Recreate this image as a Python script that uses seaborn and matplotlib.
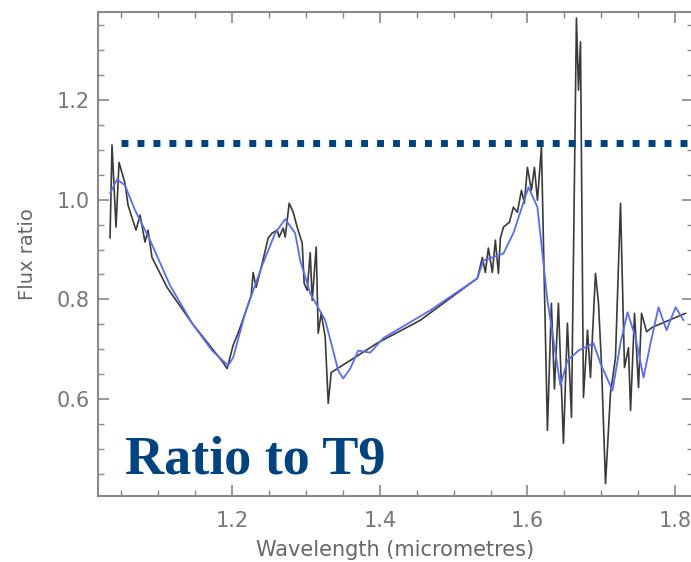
import matplotlib
matplotlib.use("Agg")
import matplotlib.pyplot as plt
import seaborn as sns
import numpy as np
from matplotlib.ticker import MultipleLocator

# observed flux ratio (black, noisy)
obs_wave = [1.0346, 1.0373, 1.0427, 1.0468, 1.0549, 1.0590, 1.0698, 1.0753, 1.0820, 1.0861,
            1.0915, 1.1119, 1.1458, 1.1878, 1.1932, 1.2014, 1.2081, 1.2176, 1.2258, 1.2285,
            1.2325, 1.2407, 1.2488, 1.2542, 1.2610, 1.2637, 1.2692, 1.2719, 1.2773, 1.2827,
            1.2881, 1.2949, 1.2976, 1.3017, 1.3058, 1.3085, 1.3139, 1.3166, 1.3207, 1.3261,
            1.3302, 1.3342, 1.3966, 1.4549, 1.5227, 1.5322, 1.5390, 1.5430, 1.5471, 1.5525,
            1.5566, 1.5607, 1.5634, 1.5675, 1.5756, 1.5810, 1.5864, 1.5919, 1.5959, 1.6000,
            1.6054, 1.6095, 1.6136, 1.6190, 1.6271, 1.6325, 1.6366, 1.6420, 1.6488, 1.6542,
            1.6597, 1.6664, 1.6692, 1.6719, 1.6759, 1.6814, 1.6854, 1.6922, 1.6963, 1.7003,
            1.7058, 1.7125, 1.7193, 1.7261, 1.7315, 1.7369, 1.7397, 1.7451, 1.7505, 1.7546,
            1.7614, 1.7695, 1.8142]
obs_ratio = [0.923, 1.110, 0.945, 1.075, 1.033, 0.989, 0.939, 0.969, 0.915, 0.939,
             0.884, 0.824, 0.752, 0.673, 0.661, 0.708, 0.732, 0.772, 0.808, 0.854,
             0.824, 0.872, 0.923, 0.933, 0.939, 0.925, 0.943, 0.925, 0.993, 0.975,
             0.945, 0.913, 0.832, 0.818, 0.894, 0.798, 0.905, 0.732, 0.772, 0.724,
             0.591, 0.653, 0.712, 0.758, 0.832, 0.842, 0.884, 0.854, 0.903, 0.854,
             0.919, 0.852, 0.923, 0.945, 0.955, 0.985, 0.975, 1.019, 0.993, 1.065,
             1.019, 1.065, 0.999, 1.106, 0.537, 0.792, 0.620, 0.792, 0.511, 0.752,
             0.563, 1.365, 1.220, 1.317, 0.603, 0.738, 0.643, 0.852, 0.792, 0.671,
             0.430, 0.611, 0.683, 0.993, 0.663, 0.703, 0.577, 0.772, 0.623, 0.772,
             0.735, 0.744, 0.772]

# smoothed model (blue)
mod_wave = [1.0346, 1.0441, 1.0549, 1.0685, 1.0888, 1.1159, 1.1458, 1.1729, 1.1946, 1.2014,
            1.2176, 1.2407, 1.2583, 1.2719, 1.2854, 1.2922, 1.3058, 1.3261, 1.3356, 1.3437,
            1.3505, 1.3600, 1.3708, 1.3871, 1.4047, 1.4685, 1.5322, 1.5403, 1.5675, 1.5810,
            1.6014, 1.6136, 1.6271, 1.6447, 1.6542, 1.6692, 1.6895, 1.6990, 1.7153, 1.7261,
            1.7356, 1.7464, 1.7573, 1.7668, 1.7776, 1.7885, 1.8007, 1.8115]
mod_ratio = [1.013, 1.041, 1.029, 0.979, 0.919, 0.828, 0.752, 0.697, 0.667, 0.683,
             0.772, 0.868, 0.933, 0.961, 0.933, 0.878, 0.812, 0.758, 0.704, 0.657,
             0.641, 0.661, 0.697, 0.693, 0.722, 0.778, 0.842, 0.878, 0.892, 0.933,
             1.025, 0.985, 0.798, 0.627, 0.677, 0.697, 0.712, 0.671, 0.617, 0.712,
             0.774, 0.724, 0.643, 0.712, 0.784, 0.738, 0.784, 0.758]

threshold = 1.1136
label_text = "Ratio to T9"

sns.set_style("ticks")
fig = plt.figure(figsize=(6.91, 5.62), dpi=100)
ax = fig.add_axes([0.1418, 0.1174, 0.8612, 0.8612])

sns.lineplot(x=obs_wave, y=obs_ratio, ax=ax, sort=False, color="#3a3a3a", lw=1.2)
sns.lineplot(x=mod_wave, y=mod_ratio, ax=ax, sort=False, color="#5a6cf0", lw=1.3)

ax.hlines(threshold, 1.0495, 1.83, colors="#00427f", lw=5,
          linestyles=[(0, (1, 1.3))])

ax.text(1.0549, 0.4503, label_text, fontsize=39, fontweight="bold",
        family="Liberation Serif", color="#00437f", va="baseline")

ax.set_xlim(1.0183, 1.8244)
ax.set_ylim(0.405, 1.377)
ax.xaxis.set_major_locator(MultipleLocator(0.2))
ax.xaxis.set_minor_locator(MultipleLocator(0.05))
ax.yaxis.set_major_locator(MultipleLocator(0.2))
ax.yaxis.set_minor_locator(MultipleLocator(0.05))
ax.xaxis.set_major_formatter(matplotlib.ticker.FormatStrFormatter("%.1f"))
ax.yaxis.set_major_formatter(matplotlib.ticker.FormatStrFormatter("%.1f"))

ax.tick_params(which="both", direction="in", top=True, right=True,
               color="#888888", labelcolor="#777777", labelsize=15)
ax.tick_params(which="major", length=8, width=1.2)
ax.tick_params(which="minor", length=4, width=1.0)
ax.tick_params(axis="x", pad=11)
ax.tick_params(axis="y", pad=6)
for sp in ax.spines.values():
    sp.set_color("#888888")
    sp.set_linewidth(1.5)

ax.set_xlabel("Wavelength (micrometres)", fontsize=15, color="#666666", labelpad=6)
ax.set_ylabel("Flux ratio", fontsize=14, color="#666666", labelpad=14)

fig.savefig("out.png", dpi=100)
